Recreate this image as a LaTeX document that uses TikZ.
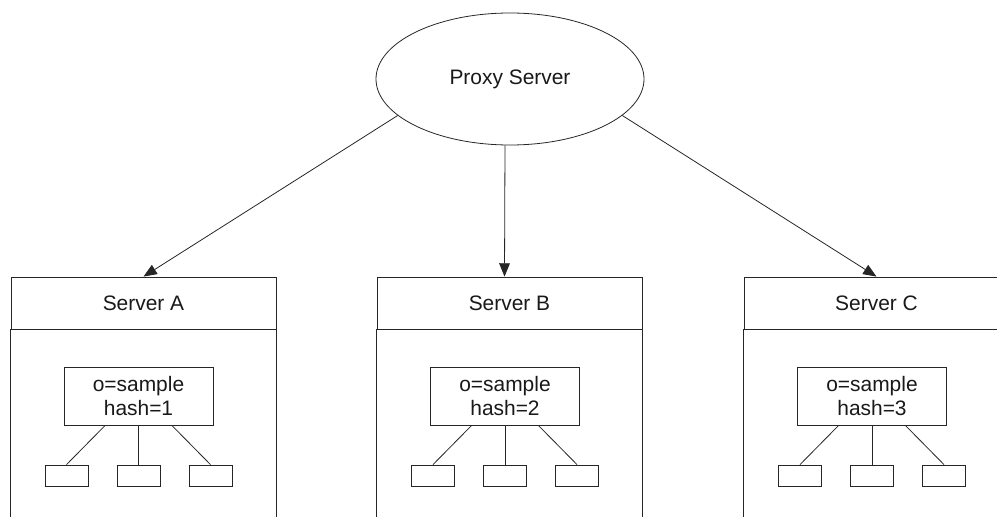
\documentclass[tikz,border=0pt]{standalone}
\usepackage{fontspec}
\setmainfont{Liberation Sans}
\usetikzlibrary{arrows.meta,shapes.geometric}
\begin{document}
\begin{tikzpicture}[x=0.75pt,y=-0.75pt, line width=0.6pt, draw=black!85,
 every node/.style={font=\fontsize{15.7}{18}\selectfont, inner sep=0pt, text=black!90},
 hdr/.style={draw, minimum width=198.75pt, minimum height=39pt},
 dbox/.style={draw, minimum width=111.75pt, minimum height=43.5pt, align=center},
 leaf/.style={draw, minimum width=32.25pt, minimum height=15.75pt},
 arr/.style={-{Triangle[length=10pt,width=8pt]}}]
\useasboundingbox (0,0) rectangle (997,517);
\node[ellipse, draw, minimum width=201pt, minimum height=99pt] (ps) at (510,79) {Proxy Server};

% Server A
\node[hdr] (sa) at (143.5,303) {Server A};
\draw (sa.south west) -- ++(0,188);
\draw (sa.south east) -- ++(0,188);
\node[dbox] (ia) at (138.5,396) {o=sample\\hash=1};
\node[leaf] (a1) at (66.5,475.5) {};
\node[leaf] (a2) at (138.5,475.5) {};
\node[leaf] (a3) at (210.5,475.5) {};
\draw ([xshift=-25pt]ia.south) -- (a1.north);
\draw (ia.south) -- (a2.north);
\draw ([xshift=25pt]ia.south) -- (a3.north);

% Server B
\node[hdr] (sb) at (509.5,303) {Server B};
\draw (sb.south west) -- ++(0,188);
\draw (sb.south east) -- ++(0,188);
\node[dbox] (ib) at (505,396) {o=sample\\hash=2};
\node[leaf] (b1) at (433,475.5) {};
\node[leaf] (b2) at (505,475.5) {};
\node[leaf] (b3) at (577,475.5) {};
\draw ([xshift=-25pt]ib.south) -- (b1.north);
\draw (ib.south) -- (b2.north);
\draw ([xshift=25pt]ib.south) -- (b3.north);

% Server C
\node[hdr] (sc) at (876.5,303) {Server C};
\draw (sc.south west) -- ++(0,188);
\draw (sc.south east) -- ++(0,188);
\node[dbox] (ic) at (872,396) {o=sample\\hash=3};
\node[leaf] (c1) at (800,475.5) {};
\node[leaf] (c2) at (872,475.5) {};
\node[leaf] (c3) at (944,475.5) {};
\draw ([xshift=-25pt]ic.south) -- (c1.north);
\draw (ic.south) -- (c2.north);
\draw ([xshift=25pt]ic.south) -- (c3.north);

% arrows
\draw[arr] (ps.198) -- (sa.north);
\draw[arr] ([xshift=-3.75pt]ps.south) -- ([xshift=-3.75pt]sb.north);
\draw[arr] (ps.342) -- (sc.north);
\end{tikzpicture}
\end{document}
